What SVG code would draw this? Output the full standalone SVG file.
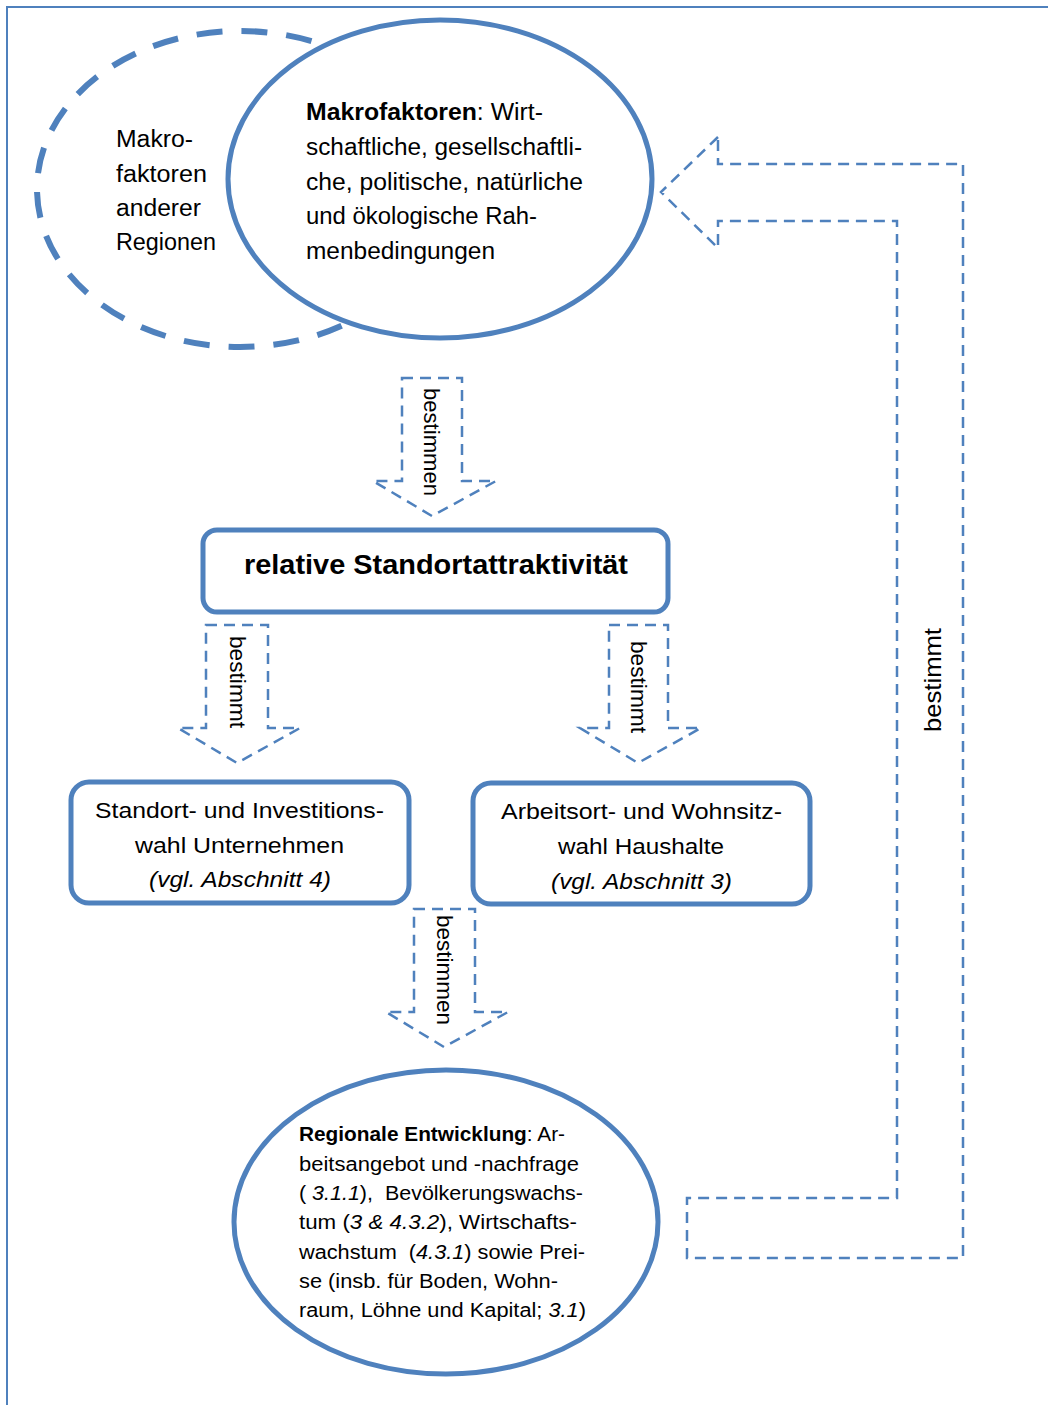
<svg xmlns="http://www.w3.org/2000/svg" width="1048" height="1405" viewBox="0 0 1048 1405">
<style>
.t{font-family:"Liberation Sans",Arial,sans-serif;fill:#000}
.b{font-weight:bold}
.i{font-style:italic}
.pre{white-space:pre}
.solid{fill:#fff;stroke:#4f81bd;stroke-width:5}
.dash{fill:none;stroke:#4f81bd;stroke-width:2.5;stroke-dasharray:11 7}
</style>
<rect x="7" y="7" width="1080" height="1430" fill="#fff" stroke="#4f81bd" stroke-width="2"/>
<g id="macro-other">
<ellipse cx="240" cy="189" rx="203" ry="158" fill="none" stroke="#4f81bd" stroke-width="6" stroke-dasharray="26 19"/>
<text class="t" font-size="23"><tspan x="116" y="147" textLength="77" lengthAdjust="spacingAndGlyphs">Makro-</tspan><tspan x="116" y="182" textLength="91" lengthAdjust="spacingAndGlyphs">faktoren</tspan><tspan x="116" y="216" textLength="85" lengthAdjust="spacingAndGlyphs">anderer</tspan><tspan x="116" y="250" textLength="100" lengthAdjust="spacingAndGlyphs">Regionen</tspan></text>
</g>
<g id="macro">
<ellipse class="solid" cx="440" cy="179" rx="212" ry="159"/>
<text class="t" font-size="23" x="306" y="120" textLength="237" lengthAdjust="spacingAndGlyphs"><tspan class="b">Makrofaktoren</tspan>: Wirt-</text>
<text class="t" font-size="23" x="306" y="155" textLength="276" lengthAdjust="spacingAndGlyphs">schaftliche, gesellschaftli-</text>
<text class="t" font-size="23" x="306" y="190" textLength="277" lengthAdjust="spacingAndGlyphs">che, politische, natürliche</text>
<text class="t" font-size="23" x="306" y="224" textLength="231" lengthAdjust="spacingAndGlyphs">und ökologische Rah-</text>
<text class="t" font-size="23" x="306" y="259" textLength="189" lengthAdjust="spacingAndGlyphs">menbedingungen</text>
</g>
<g id="relative">
<rect class="solid" x="203" y="530" width="465" height="82" rx="14"/>
<text class="t b" font-size="27" x="244" y="574" textLength="384" lengthAdjust="spacingAndGlyphs">relative Standortattraktivität</text>
</g>
<g id="firms">
<rect class="solid" x="71" y="782" width="338" height="121" rx="18"/>
<text class="t" font-size="22" x="95" y="818" textLength="289" lengthAdjust="spacingAndGlyphs">Standort- und Investitions-</text>
<text class="t" font-size="22" x="135" y="853" textLength="209" lengthAdjust="spacingAndGlyphs">wahl Unternehmen</text>
<text class="t i" font-size="22" x="149" y="887" textLength="182" lengthAdjust="spacingAndGlyphs">(vgl. Abschnitt 4)</text>
</g>
<g id="households">
<rect class="solid" x="473" y="783" width="337" height="121" rx="18"/>
<text class="t" font-size="22" x="501" y="819" textLength="281" lengthAdjust="spacingAndGlyphs">Arbeitsort- und Wohnsitz-</text>
<text class="t" font-size="22" x="558" y="854" textLength="166" lengthAdjust="spacingAndGlyphs">wahl Haushalte</text>
<text class="t i" font-size="22" x="551" y="889" textLength="181" lengthAdjust="spacingAndGlyphs">(vgl. Abschnitt 3)</text>
</g>
<g id="regional">
<ellipse class="solid" cx="446" cy="1222" rx="212" ry="152" stroke-width="6"/>
<text class="t" font-size="20" x="299" y="1141" textLength="266" lengthAdjust="spacingAndGlyphs"><tspan class="b">Regionale Entwicklung</tspan>: Ar-</text>
<text class="t" font-size="20" x="299" y="1171" textLength="280" lengthAdjust="spacingAndGlyphs">beitsangebot und -nachfrage</text>
<text class="t pre" font-size="20" x="299" y="1200" textLength="284" lengthAdjust="spacingAndGlyphs">(<tspan class="i"> 3.1.1</tspan>),  Bevölkerungswachs-</text>
<text class="t" font-size="20" x="299" y="1229" textLength="278" lengthAdjust="spacingAndGlyphs">tum (<tspan class="i">3 &amp; 4.3.2</tspan>), Wirtschafts-</text>
<text class="t pre" font-size="20" x="299" y="1259" textLength="286" lengthAdjust="spacingAndGlyphs">wachstum  (<tspan class="i">4.3.1</tspan>) sowie Prei-</text>
<text class="t" font-size="20" x="299" y="1288" textLength="259" lengthAdjust="spacingAndGlyphs">se (insb. für Boden, Wohn-</text>
<text class="t" font-size="20" x="299" y="1317" textLength="287" lengthAdjust="spacingAndGlyphs">raum, Löhne und Kapital; <tspan class="i">3.1</tspan>)</text>
</g>
<g id="connectors">
<path class="dash" d="M402,378 L462,378 L462,481 L496,481 L432,516 L373,481 L402,481 Z"/>
<text class="t" font-size="22" transform="translate(424,442) rotate(90)" text-anchor="middle" textLength="108" lengthAdjust="spacingAndGlyphs">bestimmen</text>
<path class="dash" d="M206,625 L268,625 L268,728 L300,728 L237,763 L178,728 L206,728 Z"/>
<text class="t" font-size="22" transform="translate(230,682) rotate(90)" text-anchor="middle" textLength="92" lengthAdjust="spacingAndGlyphs">bestimmt</text>
<path class="dash" d="M609,625 L668,625 L668,728 L701,728 L638,763 L580,728 L609,728 Z"/>
<text class="t" font-size="22" transform="translate(631,687) rotate(90)" text-anchor="middle" textLength="92" lengthAdjust="spacingAndGlyphs">bestimmt</text>
<path class="dash" d="M414,909 L475,909 L475,1012 L508,1012 L444,1047 L386,1012 L414,1012 Z"/>
<text class="t" font-size="22" transform="translate(437,970) rotate(90)" text-anchor="middle" textLength="110" lengthAdjust="spacingAndGlyphs">bestimmen</text>
<path class="dash" d="M718,137 L661,192 L718,248 L718,221 L897,221 L897,1198 L687,1198 L687,1258 L963,1258 L963,164 L718,164 Z"/>
<text class="t" font-size="24" transform="translate(941,680) rotate(-90)" text-anchor="middle" textLength="104" lengthAdjust="spacingAndGlyphs">bestimmt</text>
</g>
</svg>
